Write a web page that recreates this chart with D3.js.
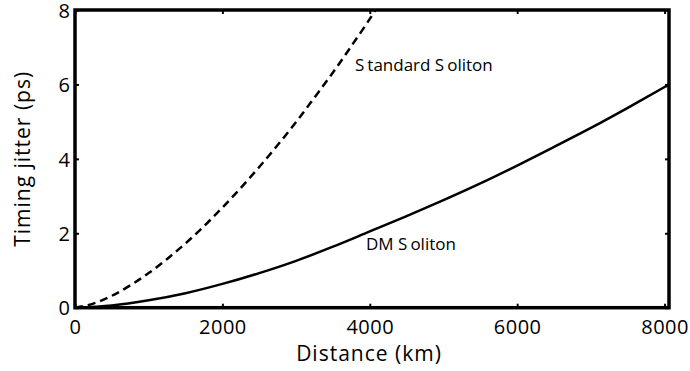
<!DOCTYPE html>
<html>
<head>
<meta charset="utf-8">
<script src="https://cdn.jsdelivr.net/npm/d3@7.9.0/dist/d3.min.js"></script>
<style>
  body { margin: 0; background: #fff; }
  svg { display: block; font-family: "Open Sans", sans-serif; }
</style>
</head>
<body>
<div id="chart"></div>
<script>
// distance in km, timing jitter in ps
const distStd = [0, 250, 500, 750, 1000, 1250, 1500, 1750, 2000, 2250, 2500, 2750, 3000, 3250, 3500, 3750, 4000, 4075];
const jitterStd = [0, 0.11, 0.32, 0.60, 0.93, 1.31, 1.73, 2.19, 2.69, 3.22, 3.78, 4.37, 4.99, 5.65, 6.32, 7.03, 7.76, 8.0];

const distDM = [0, 500, 1000, 1500, 2000, 2500, 3000, 3500, 4000, 4500, 5000, 5500, 6000, 6500, 7000, 7500, 8000, 8060];
const jitterDM = [0, 0.06, 0.20, 0.39, 0.64, 0.93, 1.26, 1.64, 2.05, 2.46, 2.89, 3.34, 3.82, 4.32, 4.83, 5.37, 5.93, 6.00];

const xTicks = [0, 2000, 4000, 6000, 8000];
const yTicks = [0, 2, 4, 6, 8];

const width = 690, height = 371;
const margin = { top: 10, right: 21, bottom: 63.3, left: 75 };

const svg = d3.select('#chart').append('svg')
  .attr('width', width)
  .attr('height', height);

const x = d3.scaleLinear()
  .domain([0, 8060])
  .range([margin.left, width - margin.right]);

const y = d3.scaleLinear()
  .domain([0, 8])
  .range([height - margin.bottom, margin.top]);

svg.append('clipPath').attr('id', 'plot-clip')
  .append('rect')
  .attr('x', margin.left).attr('y', margin.top)
  .attr('width', width - margin.left - margin.right)
  .attr('height', height - margin.top - margin.bottom);

const line = d3.line()
  .x(d => x(d[0])).y(d => y(d[1]))
  .curve(d3.curveCatmullRom.alpha(0.5));

const series = [
  { dist: distStd, jit: jitterStd, dash: '8,5' },
  { dist: distDM, jit: jitterDM, dash: null }
];

series.forEach(s => {
  svg.append('path')
    .datum(d3.zip(s.dist, s.jit))
    .attr('clip-path', 'url(#plot-clip)')
    .attr('fill', 'none')
    .attr('stroke', '#000')
    .attr('stroke-width', 2.5)
    .attr('stroke-dasharray', s.dash)
    .attr('d', line);
});

// axes with inward ticks (box on)
const bottomAxis = svg.append('g')
  .attr('transform', `translate(0,${y(0)})`)
  .call(d3.axisBottom(x).tickValues(xTicks).tickFormat(d3.format('d')).tickSizeInner(-4).tickSizeOuter(0));
bottomAxis.selectAll('text')
  .attr('y', 26.5).attr('dy', 0)
  .style('font-size', '20px').attr('letter-spacing', '0.5px');

svg.append('g')
  .attr('transform', `translate(0,${y(8)})`)
  .call(d3.axisTop(x).tickValues(xTicks).tickFormat('').tickSizeInner(-4).tickSizeOuter(0));

const leftAxis = svg.append('g')
  .attr('transform', `translate(${x(0)},0)`)
  .call(d3.axisLeft(y).tickValues(yTicks).tickSizeInner(-4).tickSizeOuter(0));
leftAxis.selectAll('text')
  .attr('x', -5).attr('dy', '0.36em')
  .style('font-size', '20px');

svg.append('g')
  .attr('transform', `translate(${x(8060)},0)`)
  .call(d3.axisRight(y).tickValues(yTicks).tickFormat('').tickSizeInner(-4).tickSizeOuter(0));

svg.selectAll('.domain').remove();
svg.selectAll('.tick line').attr('stroke', '#000').attr('stroke-width', 2);
svg.selectAll('.tick text').attr('fill', '#000').style('font-family', '"Open Sans", sans-serif');

// frame
svg.append('rect')
  .attr('x', x(0)).attr('y', y(8))
  .attr('width', x(8060) - x(0))
  .attr('height', y(0) - y(8))
  .attr('fill', 'none')
  .attr('stroke', '#000')
  .attr('stroke-width', 3.5);

// axis titles
svg.append('text')
  .attr('x', 369).attr('y', 361)
  .attr('text-anchor', 'middle')
  .attr('letter-spacing', '1px')
  .style('font-size', '21px')
  .text('Distance (km)');

svg.append('text')
  .attr('transform', `translate(30,${(y(0) + y(8)) / 2}) rotate(-90)`)
  .attr('text-anchor', 'middle')
  .attr('letter-spacing', '1px')
  .style('font-size', '21px')
  .text('Timing jitter (ps)');

// curve labels
const std = svg.append('text')
  .attr('x', 355).attr('y', 71)
  .style('font-size', '17px');
std.append('tspan').text('S');
std.append('tspan').attr('dx', 3).text('tandard S');
std.append('tspan').attr('dx', 3).text('oliton');

const dm = svg.append('text')
  .attr('x', 366).attr('y', 250)
  .style('font-size', '17px');
dm.append('tspan').text('DM S');
dm.append('tspan').attr('dx', 3).text('oliton');
</script>
</body>
</html>
